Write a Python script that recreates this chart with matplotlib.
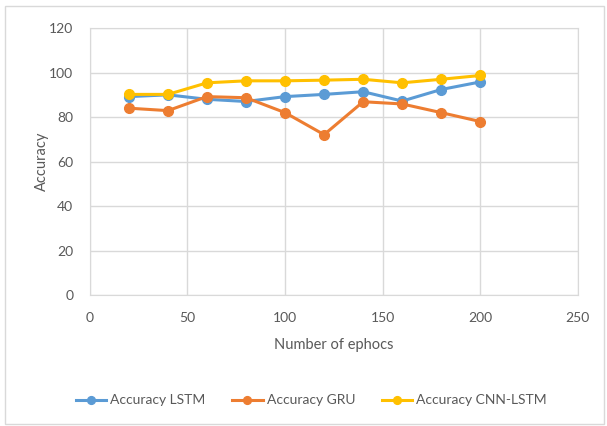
import matplotlib
matplotlib.use("Agg")
import matplotlib.pyplot as plt
from matplotlib.patches import Rectangle

plt.rcParams['font.family'] = ['Lato', 'DejaVu Sans']

epochs = [20, 40, 60, 80, 100, 120, 140, 160, 180, 200]
acc_lstm = [89.2, 90.0, 88.0, 87.0, 89.2, 90.2, 91.4, 87.2, 92.4, 95.8]
acc_gru = [84.0, 82.9, 89.2, 88.7, 82.0, 72.1, 86.9, 85.9, 82.0, 78.0]
acc_cnn_lstm = [90.2, 90.2, 95.4, 96.3, 96.3, 96.6, 97.0, 95.4, 97.0, 98.7]

series = [
    ("Accuracy LSTM", acc_lstm, "#5b9bd5"),
    ("Accuracy GRU", acc_gru, "#ed7d31"),
    ("Accuracy CNN-LSTM", acc_cnn_lstm, "#ffc000"),
]

fig = plt.figure(figsize=(6.07, 4.26), dpi=100)
ax = fig.add_axes([0.148, 0.3075, 0.804, 0.6265])

for name, vals, col in series:
    ax.plot(epochs, vals, color=col, lw=2.2, marker='o', ms=7, label=name)

ax.set_xlim(0, 250)
ax.set_ylim(0, 120)
ax.set_xticks(range(0, 251, 50))
ax.set_yticks(range(0, 121, 20))
ax.grid(True, color='#d9d9d9', lw=1)
ax.set_axisbelow(True)
for s in ax.spines.values():
    s.set_color('#d9d9d9')
ax.tick_params(length=0, colors='#595959', labelsize=10, pad=12)
ax.tick_params(axis='y', pad=12)

ax.set_xlabel("Number of ephocs", color='#595959', fontsize=10.5, labelpad=10)
ax.set_ylabel("Accuracy", color='#595959', fontsize=10.5, labelpad=0)

fig.legend(loc='center', bbox_to_anchor=(0.513, 0.06), ncol=3, frameon=False,
           fontsize=10, labelcolor='#595959', handlelength=2.2, handletextpad=0.3,
           columnspacing=1.9, markerscale=0.8)

fig.patches.append(Rectangle((5 / 607, 2 / 426), 599 / 607, 418 / 426,
                             transform=fig.transFigure, fill=False,
                             edgecolor='#d9d9d9', lw=1))

fig.savefig("out.png", dpi=100)
